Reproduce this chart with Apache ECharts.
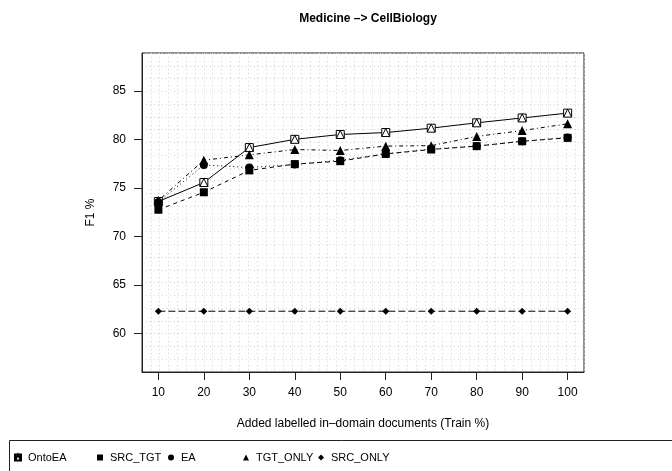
<!DOCTYPE html>
<html>
<head>
<meta charset="utf-8">
<script src="https://cdn.jsdelivr.net/npm/echarts@6/dist/echarts.min.js"></script>
<style>
  html, body { margin: 0; padding: 0; background: #fff; }
  #chart { width: 672px; height: 471px; }
</style>
</head>
<body>
<div id="chart"></div>
<script>
// Training share of added in-domain documents (%)
const trainPct = [10, 20, 30, 40, 50, 60, 70, 80, 90, 100];

// F1 scores per method
const ontoEA  = [73.6, 75.55, 79.15, 80.0, 80.5, 80.7, 81.15, 81.7, 82.2, 82.7];
const srcTgt  = [72.75, 74.55, 76.8, 77.45, 77.75, 78.5, 78.95, 79.3, 79.8, 80.15];
const ea      = [73.55, 77.35, 77.1, 77.4, 77.85, 78.5, 79.0, 79.3, 79.8, 80.2];
const tgtOnly = [73.7, 77.85, 78.4, 78.95, 78.85, 79.3, 79.35, 80.3, 80.9, 81.6];
const srcOnly = [62.3, 62.3, 62.3, 62.3, 62.3, 62.3, 62.3, 62.3, 62.3, 62.3];

// Axis tick labels
const xTicks = [10, 20, 30, 40, 50, 60, 70, 80, 90, 100];
const yTicks = [60, 65, 70, 75, 80, 85];

const FONT = 'Liberation Sans, Helvetica, Arial, sans-serif';
const pair = vals => trainPct.map((x, i) => [x, vals[i]]);

// open square with an inner up-triangle
const SQ_TRI = 'path://M0,0L10,0L10,10L0,10ZM0,10L5,0L10,10';

const seriesDefs = [
  { name: 'OntoEA',   data: ontoEA,  symbol: SQ_TRI,     size: 8, dash: 'solid',       fill: '#fff' },
  { name: 'SRC_TGT',  data: srcTgt,  symbol: 'rect',     size: 8, dash: [4, 4],        fill: '#000' },
  { name: 'EA',       data: ea,      symbol: 'circle',   size: 8, dash: [1, 3],        fill: '#000' },
  { name: 'TGT_ONLY', data: tgtOnly, symbol: 'triangle', size: 9, dash: [1, 3, 4, 3],  fill: '#000' },
  { name: 'SRC_ONLY', data: srcOnly, symbol: 'diamond',  size: 7, dash: [7, 3],        fill: '#000' }
];

// legend entries: marker centre x, one legend block each
const legendX = [17, 100, 171, 246, 321];
const legendIcons = [SQ_TRI, 'rect', 'circle', 'triangle', 'diamond'];

const dotted = { show: true, lineStyle: { color: '#d4d4d4', type: [1, 3], width: 1 } };

const option = {
  backgroundColor: '#fff',
  animation: false,
  title: {
    text: 'Medicine \u2013> CellBiology',
    left: 363,
    textAlign: 'center',
    top: 8,
    textStyle: { fontFamily: FONT, fontSize: 12, fontWeight: 'bold', color: '#000' }
  },
  grid: {
    left: 142, top: 53, width: 442, height: 319,
    show: true, borderColor: '#222', borderWidth: 1, backgroundColor: 'transparent'
  },
  xAxis: [
    {
      type: 'value', min: 6.4, max: 103.6, position: 'bottom',
      axisLine: { show: true, lineStyle: { color: '#222', width: 1 } },
      axisTick: { show: true, customValues: xTicks, length: 8, inside: false, lineStyle: { color: '#222' } },
      axisLabel: { customValues: xTicks, margin: 15, fontFamily: FONT, fontSize: 12, color: '#000' },
      splitLine: { show: false },
      name: 'Added labelled in\u2013domain documents (Train %)',
      nameLocation: 'middle', nameGap: 46,
      nameTextStyle: { fontFamily: FONT, fontSize: 12, color: '#000' }
    },
    {
      type: 'value', min: 0, max: 50, interval: 1, position: 'top',
      axisLine: { show: false }, axisTick: { show: false }, axisLabel: { show: false },
      splitLine: dotted
    }
  ],
  yAxis: [
    {
      type: 'value', min: 56.04, max: 88.89, position: 'left',
      axisLine: { show: true, lineStyle: { color: '#222', width: 1 } },
      axisTick: { show: true, customValues: yTicks, length: 8, inside: false, lineStyle: { color: '#222' } },
      axisLabel: { customValues: yTicks, margin: 16, fontFamily: FONT, fontSize: 12, color: '#000' },
      splitLine: { show: false },
      name: 'F1 %', nameLocation: 'middle', nameGap: 45, nameRotate: 90,
      nameTextStyle: { fontFamily: FONT, fontSize: 12, color: '#000' }
    },
    {
      type: 'value', min: 0, max: 25, interval: 1, position: 'right',
      axisLine: { show: false }, axisTick: { show: false }, axisLabel: { show: false },
      splitLine: dotted
    }
  ],
  legend: seriesDefs.map((s, i) => ({
    data: [{ name: s.name, icon: legendIcons[i] }],
    left: legendX[i] - 3,
    top: 452,
    itemWidth: 6, itemHeight: 6,
    padding: 0,
    selectedMode: false,
    textStyle: { fontFamily: FONT, fontSize: 11, color: '#000', padding: [0, 0, 0, 2] }
  })),
  graphic: [
    {
      type: 'rect', silent: true, z: 0,
      shape: { x: 9.5, y: 440.5, width: 700, height: 60 },
      style: { fill: 'none', stroke: '#222', lineWidth: 1 }
    }
  ],
  series: seriesDefs.map(s => ({
    type: 'line',
    name: s.name,
    xAxisIndex: 0, yAxisIndex: 0,
    data: pair(s.data),
    symbol: s.symbol,
    symbolSize: s.size,
    showAllSymbol: true,
    lineStyle: { color: '#000', width: 1, type: s.dash },
    itemStyle: { color: s.fill, borderColor: '#000', borderWidth: s.fill === '#fff' ? 1 : 0 },
    emphasis: { disabled: true }
  }))
};

const chart = echarts.init(document.getElementById('chart'), null, { renderer: 'canvas' });
chart.setOption(option);
</script>
</body>
</html>
